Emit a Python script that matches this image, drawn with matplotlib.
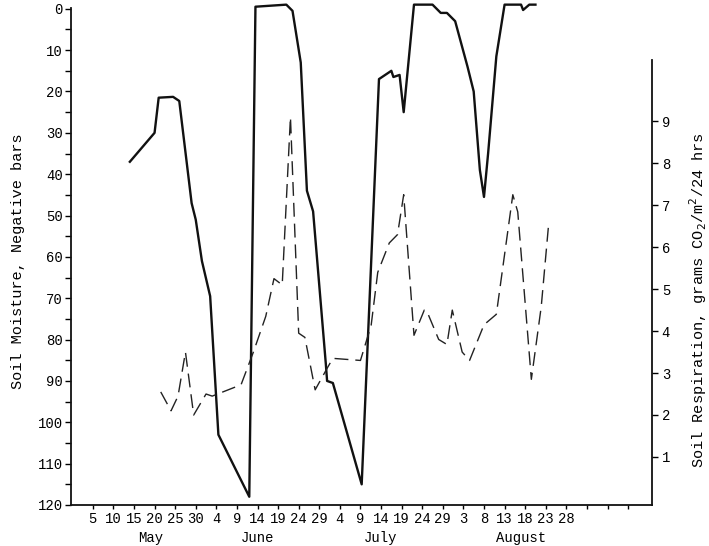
import matplotlib
matplotlib.use("Agg")
import matplotlib.pyplot as plt
from matplotlib.ticker import MultipleLocator

plt.rcParams['font.family'] = ['Liberation Mono', 'DejaVu Sans Mono']

# days counted from 1 May (May 5 -> 5, June 4 -> 35, July 4 -> 65, Aug 3 -> 95)
moisture_day = [14, 20, 21, 24.5, 26, 29, 30, 31.5, 33.5, 35.5, 43, 44.5, 52, 53.5,
                55.5, 57, 58.5, 61.6, 61.9, 63.3, 70.3, 74.5, 77.5, 78, 79.5, 80.5,
                83, 87.5, 89.5, 91, 93, 96, 97.5, 99, 100, 101, 103, 105, 109,
                109.5, 111, 112.5]
moisture_bars = [37, 30, 21.5, 21.3, 22.3, 47, 51, 61, 69.5, 103, 118, -0.5, -1, 0.5,
                 13, 44, 49, 86, 90, 90.5, 115, 17, 15, 16.5, 16, 25,
                 -1, -1, 1, 1, 3, 14, 20, 39, 45.5, 35, 11.5, -1, -1,
                 0.3, -1, -1]

resp_day = [21.5, 24, 25.7, 27.5, 29.5, 32.5, 34, 41, 44, 47, 49, 51, 53, 55, 56.5,
            59, 62, 63.3, 70, 72.6, 74.2, 77, 79, 80.5, 83, 85.5, 86.1, 89, 91,
            92.3, 94.7, 96.5, 100, 103, 107, 108.2, 111.5, 113.9, 115.7]
resp_co2 = [2.55, 2.1, 2.45, 3.5, 2.0, 2.5, 2.45, 2.72, 3.5, 4.35, 5.25, 5.1, 9.1, 3.95,
            3.85, 2.6, 3.13, 3.35, 3.3, 4.14, 5.4, 6.1, 6.3, 7.25, 3.9, 4.5, 4.48, 3.8,
            3.68, 4.5, 3.5, 3.3, 4.15, 4.4, 7.25, 6.84, 2.85, 4.58, 6.55]

tick_days = list(range(5, 136, 5))
tick_text = ['5', '10', '15', '20', '25', '30', '4', '9', '14', '19', '24', '29',
             '4', '9', '14', '19', '24', '29', '3', '8', '13', '18', '23', '28',
             '', '', '']
months = ['May', 'June', 'July', 'August']
month_pos = [19, 45, 75, 109]

fig = plt.figure(figsize=(7.09, 5.46), dpi=100)
ax = fig.add_axes([0.1001, 0.0751, 0.8195, 0.9164])
ax2 = ax.twinx()

ax.plot(moisture_day, moisture_bars, color='#111111', lw=1.7, clip_on=False)
ax2.plot(resp_day, resp_co2, color='#222222', lw=1.0, dashes=(10, 5))

ax.set_xlim(-0.3, 140.8)
ax.set_ylim(120, -1)
ax2.set_ylim(-0.145, 11.78)

ax.spines['top'].set_visible(False)
ax2.spines['top'].set_visible(False)
ax2.spines['left'].set_visible(False)
ax2.spines['bottom'].set_visible(False)
ax.spines['right'].set_visible(False)
ax.spines['left'].set_bounds(120, -0.3)
ax2.spines['right'].set_bounds(-0.145, 10.47)
for sp in list(ax.spines.values()) + list(ax2.spines.values()):
    sp.set_linewidth(1.3)
    sp.set_color('#111111')

ax.yaxis.set_major_locator(MultipleLocator(10))
ax.yaxis.set_minor_locator(MultipleLocator(5))
ax.tick_params(axis='y', which='both', direction='out', length=4, width=1,
               labelsize=10, pad=2)
ax.set_xticks(tick_days)
ax.set_xticklabels(tick_text)
ax.tick_params(axis='x', direction='out', length=3, width=1, labelsize=10, pad=2)

ax2.set_yticks(range(1, 10))
ax2.tick_params(axis='y', direction='out', length=4, width=1, labelsize=10, pad=3)

for m, p in zip(months, month_pos):
    ax.text(p, -0.065, m, transform=ax.get_xaxis_transform(), ha='center',
            va='center', fontsize=10)

fig.text(0.025, 0.522, 'Soil Moisture, Negative bars', rotation=90,
         ha='center', va='center', fontsize=11)
fig.text(0.985, 0.45, 'Soil Respiration, grams CO$_2$/m$^2$/24 hrs', rotation=90,
         ha='center', va='center', fontsize=11)

fig.savefig('out.png', dpi=100)
